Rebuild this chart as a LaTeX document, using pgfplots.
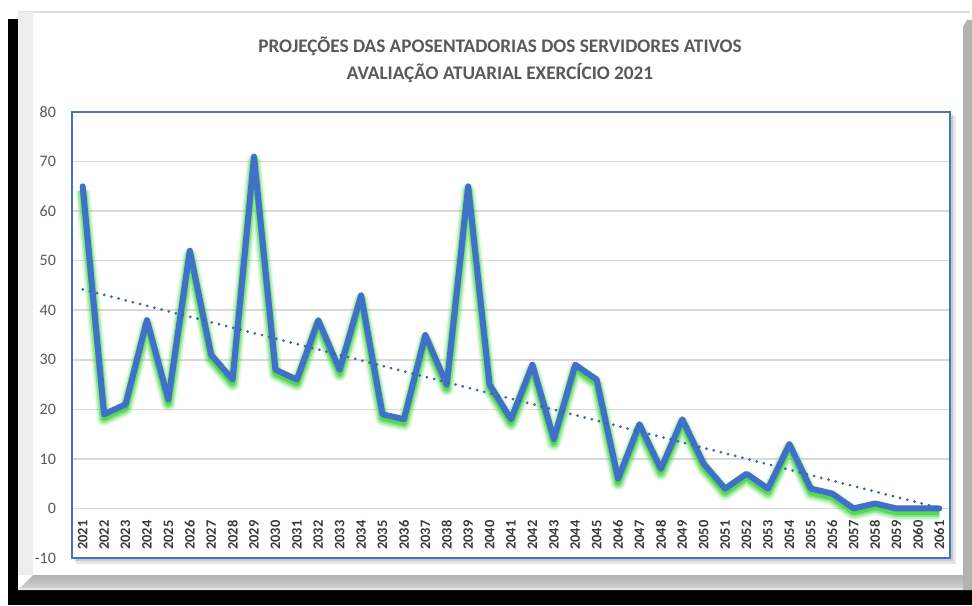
\documentclass[border=0pt]{standalone}
\usepackage{fontspec}
\setmainfont{Carlito}
\usepackage{pgfplots}
\pgfplotsset{compat=1.18}
\definecolor{axblue}{HTML}{4472C4}
\definecolor{lineblue}{HTML}{4170C8}
\definecolor{glow}{HTML}{4CD64C}
\definecolor{gridgray}{HTML}{D9D9D9}
\definecolor{labgray}{HTML}{595959}
\definecolor{xlab}{HTML}{3A3A3A}
\definecolor{trend}{HTML}{3F62A8}
\begin{document}
\begin{tikzpicture}[x=1pt,y=1pt]
\path[use as bounding box] (0,0) rectangle (486,302.5);
% frame
\fill[black] (4,0) rectangle (9,293);
\fill[black] (4,0) rectangle (486,7.5);
\fill[gray!60] (481.5,7.5) -- (481.5,289) -- (483.5,292.5) -- (486,292.5) -- (486,7.5) -- cycle;
\fill[white] (9,7.5) rectangle (481.5,296.5);
\draw[gray!25, line width=0.8pt] (9,296.5) -- (485,296.5);
\fill[gray!14] (9,15) rectangle (16.5,296.5);
\shade[top color=gray!60, bottom color=gray!35] (9,7.5) -- (481.5,7.5) -- (481.5,15) -- (16.5,15) -- cycle;
\draw[gray!20, line width=0.6pt] (9,8) -- (481.5,8);
% plot area shadow
\fill[black, opacity=0.10] (38,20.5) rectangle (478,244.5);
\fill[black, opacity=0.12] (37,22) rectangle (476.5,245.5);
% title
\node[align=center, text=labgray, font=\bfseries\fontsize{9.6}{13.5}\selectfont] at (250,272.5)
  {PROJEÇÕES DAS APOSENTADORIAS DOS SERVIDORES ATIVOS\\AVALIAÇÃO ATUARIAL EXERCÍCIO 2021};
\begin{axis}[
  at={(36pt,23.5pt)}, anchor=south west,
  scale only axis, width=439pt, height=223pt,
  xmin=-0.5, xmax=40.5, ymin=-10, ymax=80,
  xtick={0,...,40},
  xticklabels={2021,2022,2023,2024,2025,2026,2027,2028,2029,2030,2031,2032,2033,2034,2035,2036,2037,2038,2039,2040,2041,2042,2043,2044,2045,2046,2047,2048,2049,2050,2051,2052,2053,2054,2055,2056,2057,2058,2059,2060,2061},
  ytick={-10,0,10,20,30,40,50,60,70,80},
  ymajorgrids,
  grid style={draw=gridgray, line width=0.8pt},
  axis line style={draw=axblue, line width=0.7pt},
  major tick length=0pt,
  tick style={draw=none},
  axis background/.style={fill=white},
  /pgf/number format/assume math mode=true,
  yticklabel style={font=\fontsize{8}{8}\selectfont, text=labgray, xshift=-4.5pt},
  xticklabel style={yshift=4pt, rotate=90, anchor=west, inner sep=0pt, font=\bfseries\fontsize{7.2}{7.2}\selectfont, text=xlab},
  clip=true,
]
\pgfplotstableread{
x y
0 65
1 19
2 21
3 38
4 22
5 52
6 31
7 26
8 71
9 28
10 26
11 38
12 28
13 43
14 19
15 18
16 35
17 25
18 65
19 25
20 18
21 29
22 14
23 29
24 26
25 6
26 17
27 8
28 18
29 9
30 4
31 7
32 4
33 13
34 4
35 3
36 0
37 1
38 0
39 0
40 0
}\data
\addplot[glow, opacity=0.12, line width=7.5pt, line join=round, yshift=-2.2pt] table[x=x,y=y] {\data};
\addplot[glow, opacity=0.25, line width=6pt, line join=round, yshift=-2.2pt] table[x=x,y=y] {\data};
\addplot[glow, opacity=0.45, line width=4.5pt, line join=round, yshift=-2pt] table[x=x,y=y] {\data};
\addplot[glow, opacity=0.85, line width=3pt, line join=round, yshift=-1.8pt] table[x=x,y=y] {\data};
\addplot[lineblue, line width=3pt, line join=round, line cap=round] table[x=x,y=y] {\data};
\addplot[trend, line width=1.5pt, line cap=round, dash pattern=on 0pt off 3.7pt] coordinates {(0,44.2) (40,0.1)};
\end{axis}
\end{tikzpicture}
\end{document}
